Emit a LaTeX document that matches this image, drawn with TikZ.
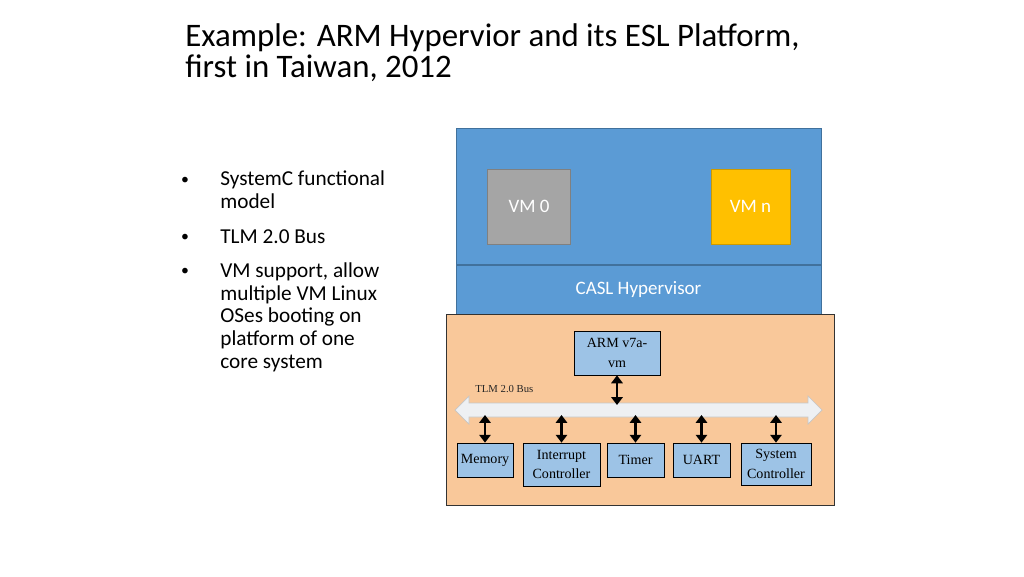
\documentclass[tikz,border=0pt]{standalone}
\usepackage{fontspec}
\setmainfont{Carlito}
\newfontfamily\tnr{Liberation Serif}
\usetikzlibrary{arrows.meta}
\definecolor{hvblue}{HTML}{5B9BD5}
\definecolor{hvedge}{HTML}{41719C}
\definecolor{vmgray}{HTML}{A5A5A5}
\definecolor{vmgold}{HTML}{FFC000}
\definecolor{socorange}{HTML}{F9C89A}
\definecolor{ipblue}{HTML}{9DC3E6}
\definecolor{busfill}{HTML}{EEF0F3}

\begin{document}
\begin{tikzpicture}[x=0.02cm,y=-0.02cm,
    ipblock/.style={draw=black,fill=ipblue,inner sep=1pt,align=center,
        font=\tnr\fontsize{8}{11}\selectfont},
    vmbox/.style={minimum width=1.66cm,minimum height=1.5cm,text=white,
        font=\fontsize{10.8}{12}\selectfont},
    link/.style={{Triangle[width=6.5pt,length=4.5pt]}-{Triangle[width=6.5pt,length=4.5pt]},line width=1.6pt},
    bullet/.style={anchor=base west,align=left,inner sep=0pt,font=\fontsize{12.1}{12.9}\selectfont},
    dot/.style={anchor=base,inner sep=0pt,font=\fontsize{9}{10}\selectfont}]
\useasboundingbox (0,0) rectangle (1024,576);
% title (anchored on its last line)
\node[anchor=base west,align=left,inner sep=0pt,font=\fontsize{18.7}{17.1}\selectfont] (title) at (185,77)
    {Example: ARM Hypervior and its ESL Platform,\\first in Taiwan, 2012};
% bullets
\node[dot] (b1) at (185,184) {\textbullet};
\node[bullet] (t1) at (220,208) {SystemC functional\\model};
\node[dot] (b2) at (185,241) {\textbullet};
\node[bullet] (t2) at (220,243) {TLM 2.0 Bus};
\node[dot] (b3) at (185,275) {\textbullet};
\node[bullet] (t3) at (220,368) {VM support, allow\\multiple VM Linux\\OSes booting on\\platform of one\\core system};
% hypervisor
\node[draw=hvedge,fill=hvblue,minimum width=7.3cm,minimum height=2.72cm] (guest) at (638.5,196) {};
\node[draw=hvedge,fill=hvblue,minimum width=7.3cm,minimum height=0.98cm,text=white,
    font=\fontsize{10.8}{12}\selectfont] (hyp) at (638.5,289.5) {CASL Hypervisor};
\node[vmbox,fill=vmgray,draw=gray] (vm0) at (529,206.5) {VM 0};
\node[vmbox,fill=vmgold,draw=vmgold!80!black,minimum width=1.58cm] (vmn) at (750.5,206.5) {VM n};
% platform
\node[draw=black!80,fill=socorange,minimum width=7.76cm,minimum height=3.82cm] (soc) at (640,410) {};
\node[ipblock,minimum width=1.72cm,minimum height=0.88cm] (arm) at (617,353) {ARM v7a-\\vm};
\fill[busfill,draw=gray!45] (455,410) -- (469,396) -- (469,403) -- (808,403) -- (808,396)
    -- (822,410) -- (808,424) -- (808,417) -- (469,417) -- (469,424) -- cycle;
\coordinate (bustop) at (0,405);
\coordinate (busbot) at (0,415);
\node[anchor=base west,inner sep=0pt,font=\tnr\fontsize{6.1}{7}\selectfont,text=black!85] (buslbl) at (475,392) {TLM 2.0 Bus};
\node[ipblock,minimum width=1.12cm,minimum height=0.68cm] (mem) at (485,460) {Memory};
\node[ipblock,minimum width=1.54cm,minimum height=0.86cm] (intc) at (561.5,464.5) {Interrupt\\Controller};
\node[ipblock,minimum width=1.14cm,minimum height=0.68cm] (timer) at (635.5,460) {Timer};
\node[ipblock,minimum width=1.14cm,minimum height=0.68cm] (uart) at (701.5,460) {UART};
\node[ipblock,minimum width=1.40cm,minimum height=0.84cm] (sysc) at (776,464) {System\\Controller};
\draw[link] (arm.south) -- (arm.south |- bustop);
\foreach \blk in {mem,intc,timer,uart,sysc}{
    \draw[link] (\blk.north) -- (\blk.north |- busbot);
}
\end{tikzpicture}
\end{document}
